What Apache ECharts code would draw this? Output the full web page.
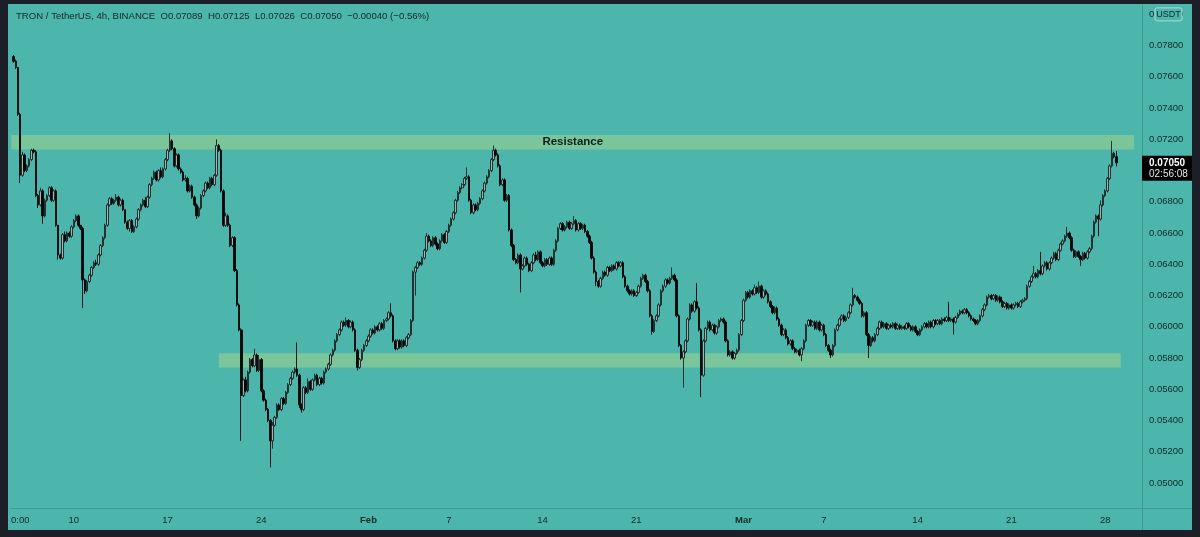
<!DOCTYPE html>
<html><head><meta charset="utf-8">
<script src="https://cdn.jsdelivr.net/npm/echarts@6/dist/echarts.min.js"></script>
<style>
html,body{margin:0;padding:0;background:#1c1f27;width:1200px;height:537px;overflow:hidden}
#chart{position:absolute;left:8px;top:4px;width:1184px;height:526px;background:#4db6ac}
</style></head><body><div id="chart"></div>
<script>
// ---------- data ----------
const headerTitle = 'TRON / TetherUS, 4h, BINANCE';
const headerOHLC = 'O0.07089  H0.07125  L0.07026  C0.07050  \u22120.00040 (\u22120.56%)';
const firstSlotTime = '2022-01-05T08:00:00Z';   // one empty slot before the first candle
const firstOpen = 0.0773;
const closes = [
/*Jan05*/0.0770,0.0766,0.0736,
/*Jan06*/0.0697,0.0710,0.0700,0.0703,0.0707,0.0713,
/*Jan07*/0.0712,0.0684,0.0678,0.0687,0.0671,0.0681,
/*Jan08*/0.0684,0.0689,0.0681,0.0687,0.0665,0.0646,
/*Jan09*/0.0644,0.0659,0.0655,0.0660,0.0658,0.0664,
/*Jan10*/0.0668,0.0671,0.0665,0.0663,0.0630,0.0623,
/*Jan11*/0.0629,0.0633,0.0638,0.0641,0.0640,0.0646,
/*Jan12*/0.0652,0.0657,0.0665,0.0678,0.0682,0.0679,
/*Jan13*/0.0681,0.0683,0.0678,0.0681,0.0675,0.0667,
/*Jan14*/0.0663,0.0668,0.0661,0.0664,0.0669,0.0675,
/*Jan15*/0.0678,0.0681,0.0677,0.0683,0.0691,0.0695,
/*Jan16*/0.0699,0.0694,0.0700,0.0696,0.0701,0.0707,
/*Jan17*/0.0713,0.0719,0.0714,0.0703,0.0710,0.0701,
/*Jan18*/0.0699,0.0694,0.0695,0.0687,0.0690,0.0683,
/*Jan19*/0.0678,0.0671,0.0676,0.0684,0.0687,0.0692,
/*Jan20*/0.0689,0.0695,0.0691,0.0697,0.0716,0.0713,
/*Jan21*/0.0687,0.0665,0.0671,0.0665,0.0652,0.0657,
/*Jan22*/0.0636,0.0614,0.0598,0.0556,0.0566,0.0559,
/*Jan23*/0.0571,0.0579,0.0575,0.0582,0.0572,0.0579,
/*Jan24*/0.0559,0.0553,0.0547,0.0540,0.0527,0.0537,
/*Jan25*/0.0542,0.0550,0.0547,0.0554,0.0551,0.0558,
/*Jan26*/0.0563,0.0567,0.0571,0.0573,0.0569,0.0550,
/*Jan27*/0.0547,0.0561,0.0558,0.0565,0.0560,0.0566,
/*Jan28*/0.0569,0.0563,0.0567,0.0564,0.0571,0.0573,
/*Jan29*/0.0576,0.0582,0.0585,0.0591,0.0595,0.0598,
/*Jan30*/0.0603,0.0601,0.0604,0.0600,0.0603,0.0598,
/*Jan31*/0.0585,0.0574,0.0579,0.0585,0.0588,0.0591,
/*Feb01*/0.0594,0.0598,0.0596,0.0600,0.0598,0.0602,
/*Feb02*/0.0599,0.0604,0.0605,0.0609,0.0607,0.0591,
/*Feb03*/0.0586,0.0591,0.0587,0.0591,0.0588,0.0593,
/*Feb04*/0.0595,0.0604,0.0635,0.0638,0.0641,0.0640,
/*Feb05*/0.0644,0.0649,0.0658,0.0655,0.0652,0.0657,
/*Feb06*/0.0653,0.0650,0.0655,0.0659,0.0654,0.0661,
/*Feb07*/0.0665,0.0669,0.0673,0.0681,0.0686,0.0689,
/*Feb08*/0.0691,0.0695,0.0696,0.0681,0.0673,0.0678,
/*Feb09*/0.0675,0.0679,0.0682,0.0687,0.0692,0.0696,
/*Feb10*/0.0700,0.0707,0.0713,0.0710,0.0703,0.0691,
/*Feb11*/0.0694,0.0681,0.0684,0.0662,0.0652,0.0643,
/*Feb12*/0.0641,0.0646,0.0637,0.0639,0.0644,0.0640,
/*Feb13*/0.0636,0.0641,0.0646,0.0643,0.0648,0.0641,
/*Feb14*/0.0639,0.0643,0.0640,0.0644,0.0640,0.0649,
/*Feb15*/0.0655,0.0663,0.0666,0.0662,0.0664,0.0667,
/*Feb16*/0.0663,0.0666,0.0668,0.0662,0.0666,0.0663,
/*Feb17*/0.0665,0.0661,0.0658,0.0654,0.0644,0.0635,
/*Feb18*/0.0629,0.0626,0.0631,0.0635,0.0633,0.0638,
/*Feb19*/0.0636,0.0639,0.0637,0.0641,0.0639,0.0641,
/*Feb20*/0.0632,0.0626,0.0623,0.0621,0.0623,0.0620,
/*Feb21*/0.0622,0.0626,0.0631,0.0633,0.0629,0.0623,
/*Feb22*/0.0607,0.0597,0.0604,0.0607,0.0614,0.0623,
/*Feb23*/0.0626,0.0630,0.0628,0.0631,0.0633,0.0630,
/*Feb24*/0.0607,0.0588,0.0580,0.0584,0.0591,0.0605,
/*Feb25*/0.0614,0.0610,0.0616,0.0612,0.0598,0.0569,
/*Feb26*/0.0591,0.0599,0.0603,0.0598,0.0601,0.0596,
/*Feb27*/0.0600,0.0604,0.0605,0.0603,0.0591,0.0582,
/*Feb28*/0.0584,0.0580,0.0583,0.0585,0.0595,0.0604,
/*Mar01*/0.0617,0.0622,0.0619,0.0623,0.0621,0.0625,
/*Mar02*/0.0622,0.0626,0.0619,0.0623,0.0621,0.0616,
/*Mar03*/0.0613,0.0609,0.0612,0.0605,0.0601,0.0595,
/*Mar04*/0.0598,0.0593,0.0589,0.0591,0.0586,0.0584,
/*Mar05*/0.0585,0.0582,0.0586,0.0591,0.0601,0.0604,
/*Mar06*/0.0601,0.0603,0.0599,0.0603,0.0598,0.0601,
/*Mar07*/0.0595,0.0588,0.0585,0.0582,0.0588,0.0598,
/*Mar08*/0.0601,0.0605,0.0607,0.0604,0.0606,0.0609,
/*Mar09*/0.0614,0.0620,0.0619,0.0617,0.0615,0.0607,
/*Mar10*/0.0609,0.0595,0.0588,0.0593,0.0591,0.0595,
/*Mar11*/0.0599,0.0603,0.0600,0.0602,0.0599,0.0601,
/*Mar12*/0.0600,0.0602,0.0599,0.0601,0.0599,0.0600,
/*Mar13*/0.0599,0.0602,0.0600,0.0598,0.0600,0.0597,
/*Mar14*/0.0595,0.0598,0.0600,0.0602,0.0600,0.0603,
/*Mar15*/0.0600,0.0604,0.0602,0.0604,0.0602,0.0605,
/*Mar16*/0.0604,0.0606,0.0604,0.0605,0.0603,0.0606,
/*Mar17*/0.0608,0.0610,0.0609,0.0611,0.0609,0.0607,
/*Mar18*/0.0605,0.0604,0.0602,0.0604,0.0607,0.0611,
/*Mar19*/0.0614,0.0619,0.0620,0.0618,0.0620,0.0617,
/*Mar20*/0.0619,0.0616,0.0613,0.0615,0.0612,0.0614,
/*Mar21*/0.0612,0.0614,0.0615,0.0613,0.0616,0.0617,
/*Mar22*/0.0618,0.0626,0.0629,0.0632,0.0634,0.0632,
/*Mar23*/0.0636,0.0634,0.0639,0.0641,0.0637,0.0641,
/*Mar24*/0.0644,0.0647,0.0643,0.0649,0.0653,0.0655,
/*Mar25*/0.0658,0.0660,0.0657,0.0649,0.0645,0.0648,
/*Mar26*/0.0645,0.0643,0.0647,0.0644,0.0648,0.0650,
/*Mar27*/0.0658,0.0667,0.0671,0.0669,0.0678,0.0684,
/*Mar28*/0.0687,0.0695,0.0703,0.0711,0.07089,0.07050
];
// upper / lower wick lengths, in units of 0.0001
const wickUp = [
1,1,0,
1,2,1,1,1,1, 1,1,1,2,1,1, 1,1,1,1,1,0, 1,1,2,1,1,1, 1,1,1,0,1,1,
1,1,1,1,2,1, 1,1,1,1,1,1, 1,2,1,1,1,0, 1,1,1,1,1,1, 1,1,2,1,1,1,
1,1,1,2,1,1, 1,5,1,1,1,1, 1,1,2,1,1,1, 1,1,1,1,1,1, 1,1,1,1,4,1,
1,1,2,1,1,1, 1,1,1,1,1,2, 1,1,1,4,1,3, 1,1,1,1,1,2, 1,1,1,1,1,1,
1,1,1,1,17,1, 1,1,1,2,1,1, 1,1,1,1,1,1, 1,1,1,1,1,1, 1,1,2,1,1,1,
1,1,1,1,1,1,
1,1,1,1,1,1, 1,1,1,1,6,1, 1,1,1,1,1,1, 1,1,1,1,1,1, 1,1,2,1,1,1,
1,1,1,1,1,1, 1,1,1,1,1,1, 1,1,6,1,1,1, 1,1,1,1,1,1, 1,1,3,1,1,1,
1,1,1,1,1,1, 1,1,1,1,1,1, 1,1,1,2,1,1, 1,1,1,1,1,1, 1,1,1,1,1,1,
1,1,3,1,1,1, 1,1,1,1,1,1, 1,1,1,1,1,1, 1,1,1,1,1,1, 1,1,1,1,1,1,
1,1,1,1,1,1, 1,1,1,1,1,1, 1,1,1,1,5,1, 1,1,1,1,1,1, 1,1,1,12,1,1,
1,1,1,1,1,1, 1,1,1,1,1,1, 1,1,1,1,1,1,
1,1,1,1,1,2, 1,3,1,1,1,1, 1,1,1,1,1,1, 1,1,1,1,1,1, 1,1,1,1,1,1,
1,1,1,1,1,1, 1,1,1,1,1,1, 1,1,1,1,1,1, 1,5,1,1,1,1, 1,1,1,1,1,1,
1,1,1,1,1,1, 1,1,1,1,1,1, 1,1,1,1,1,1, 1,1,1,1,1,1, 1,1,1,1,1,1,
1,1,10,1,1,1, 1,1,1,1,1,1, 1,1,1,1,1,1, 1,1,1,1,1,1, 1,1,1,1,1,1,
1,1,1,1,1,1, 1,1,1,1,5,1, 1,12,1,1,1,1, 1,1,1,1,1,1, 1,4,1,1,1,1,
1,1,1,1,1,1, 1,1,1,1,3,1, 1,1,1,8,1,3.6
];
const wickDn = [
1,1,1,
5,1,1,1,1,1, 1,1,2,1,5,1, 1,1,1,1,1,3, 1,1,1,1,1,1, 1,1,1,1,18,2,
1,1,1,1,1,1, 1,1,1,1,1,1, 1,1,1,1,1,1, 1,2,1,1,1,1, 1,1,1,1,1,1,
1,1,1,1,1,1, 1,1,1,1,1,1, 1,1,1,1,1,1, 1,2,1,1,1,1, 1,1,1,1,1,1,
1,1,1,1,1,1, 1,1,1,29,1,1, 1,1,1,1,1,1, 1,1,1,1,17,5, 1,1,1,1,1,1,
1,1,1,1,1,2, 2,1,1,1,1,1, 1,1,1,1,1,1, 1,1,1,1,1,1, 1,1,1,1,1,1,
1,2,1,1,1,1,
1,1,1,1,1,1, 1,1,1,1,1,1, 1,1,1,1,1,1, 1,1,1,15,1,1, 1,1,1,1,1,1,
1,1,1,1,1,1, 1,1,1,1,1,1, 1,1,1,1,1,1, 1,1,1,1,1,1, 1,1,1,1,1,1,
1,1,1,1,1,1, 1,1,15,1,1,1, 1,1,1,1,1,1, 1,1,1,1,1,1, 1,1,1,1,1,1,
1,1,1,1,1,1, 1,1,1,1,1,1, 3,1,1,1,1,1, 1,1,1,1,1,1, 1,1,1,1,1,1,
1,1,1,1,1,1, 1,2,1,1,1,1, 1,1,1,1,1,1, 1,1,1,19,1,1, 1,1,1,1,1,14,
1,1,1,1,1,1, 1,1,1,1,1,1, 1,1,1,1,1,1,
1,1,1,1,1,1, 1,1,1,1,1,1, 1,1,1,1,1,1, 1,1,1,1,1,1, 1,1,4,1,1,1,
1,1,1,1,1,1, 1,1,1,2,1,1, 1,1,1,1,1,1, 1,1,1,1,1,1, 1,1,8,1,1,1,
1,1,1,1,1,1, 1,1,1,1,1,1, 1,1,1,1,1,1, 1,1,1,1,1,1, 1,1,1,1,1,1,
1,1,1,1,8,1, 1,1,1,1,1,1, 1,1,1,1,1,1, 1,1,1,1,1,1, 1,1,1,1,1,1,
1,1,1,1,1,1, 1,1,1,1,1,1, 1,1,1,1,1,1, 1,1,1,1,1,1, 1,1,1,1,1,1,
1,4,1,1,1,1, 1,1,1,11,1,1, 1,1,1,1,1,2.4
];
const emptySlotsAfter = 11;
const tickTimes = ['2022-01-06 00:00','2022-01-10 00:00','2022-01-17 00:00','2022-01-24 00:00','2022-02-01 00:00','2022-02-07 00:00','2022-02-14 00:00','2022-02-21 00:00','2022-03-01 00:00','2022-03-07 00:00','2022-03-14 00:00','2022-03-21 00:00','2022-03-28 00:00'];
const tickTexts = ['0:00','10','17','24','Feb','7','14','21','Mar','7','14','21','28'];
const tickBold  = [false,false,false,false,true,false,false,false,true,false,false,false,false];
const resistance = {label:'Resistance', from:'2022-01-05 08:00', to:'2022-03-30 04:00', low:0.07135, high:0.07228};
const support    = {label:'', from:'2022-01-20 20:00', to:'2022-03-29 04:00', low:0.0574, high:0.0583};
const yMin = 0.0484, yMax = 0.0806, yStep = 0.002;
const priceUnit = 'USDT';
const lastPriceLabel = '0.07050';
const countdown = '02:56:08';

// ---------- build ----------
const H4 = 4 * 3600 * 1000;
const t0 = Date.parse(firstSlotTime);
const nSlots = 1 + closes.length + emptySlotsAfter;
const fmt = t => new Date(t).toISOString().slice(0, 16).replace('T', ' ');
const categories = [];
for (let k = 0; k < nSlots; k++) categories.push(fmt(t0 + k * H4));
const candles = ['-'];
let prev = firstOpen;
for (let i = 0; i < closes.length; i++) {
  const o = prev, c = closes[i];
  const hi = Math.max(o, c) + wickUp[i] * 0.0001;
  const lo = Math.min(o, c) - wickDn[i] * 0.0001;
  candles.push([o, c, +lo.toFixed(6), +hi.toFixed(6)]);
  prev = c;
}
for (let k = 0; k < emptySlotsAfter; k++) candles.push('-');

const TXT = '#102826';
const FONT = "'Liberation Sans', Arial, sans-serif";
const LINE = '#3f9a92';
const ZONE = '#7ac59a';

const chart = echarts.init(document.getElementById('chart'), null, {renderer: 'canvas'});
chart.setOption({
  animation: false,
  backgroundColor: 'transparent',
  grid: {left: 0, right: 50, top: 1, bottom: 22, containLabel: false},
  xAxis: {
    type: 'category', data: categories, boundaryGap: true,
    axisLine: {show: true, lineStyle: {color: LINE, width: 1}},
    axisTick: {show: false},
    splitLine: {show: false},
    axisLabel: {
      interval: (idx, val) => tickTimes.indexOf(val) >= 0,
      formatter: val => { const j = tickTimes.indexOf(val); return j < 0 ? '' : (tickBold[j] ? '{b|' + tickTexts[j] + '}' : tickTexts[j]); },
      color: TXT, fontFamily: FONT, fontSize: 9.5, margin: 7,
      rich: {b: {fontWeight: 'bold', color: TXT, fontFamily: FONT, fontSize: 9.5}}
    }
  },
  yAxis: {
    type: 'value', position: 'right', scale: true,
    min: yMin, max: yMax, splitNumber: 16, minInterval: yStep, maxInterval: yStep,
    axisLine: {show: true, lineStyle: {color: LINE, width: 1}},
    axisTick: {show: false},
    splitLine: {show: false},
    axisLabel: {
      showMinLabel: false, showMaxLabel: false, margin: 7,
      formatter: v => v.toFixed(5), color: TXT, fontFamily: FONT, fontSize: 9.5
    }
  },
  series: [
    {
      type: 'line', data: [], z: 1, silent: true,
      markArea: {
        silent: true,
        itemStyle: {color: ZONE, opacity: 1},
        label: {show: true, position: 'inside', color: '#0e1f1d', fontFamily: FONT, fontWeight: 'bold', fontSize: 11.5},
        data: [
          [{name: resistance.label, xAxis: resistance.from, yAxis: resistance.high}, {xAxis: resistance.to, yAxis: resistance.low}],
          [{name: support.label, xAxis: support.from, yAxis: support.high}, {xAxis: support.to, yAxis: support.low}]
        ]
      }
    },
    {
      type: 'candlestick', data: candles, z: 3, barWidth: '90%',
      itemStyle: {color: '#a3b3b0', color0: '#050707', borderColor: '#1b2322', borderColor0: '#050707', borderWidth: 0.9}
    }
  ]
});

const py = chart.convertToPixel({yAxisIndex: 0}, closes[closes.length - 1]);
const py80 = chart.convertToPixel({yAxisIndex: 0}, 0.08);
chart.setOption({
  graphic: [
    {type: 'text', left: 8, top: 7, z: 10, style: {text: headerTitle + '  ' + headerOHLC, fill: TXT, font: '9.6px ' + FONT}},
    {type: 'line', z: 10, shape: {x1: 1134.5, y1: 504, x2: 1134.5, y2: 526}, style: {stroke: LINE, lineWidth: 1}},
    {type: 'line', z: 10, shape: {x1: 1134, y1: 504.5, x2: 1184, y2: 504.5}, style: {stroke: LINE, lineWidth: 1}},
    {type: 'rect', z: 10, shape: {x: 1147, y: py80 - 6.5, width: 27, height: 13, r: 2}, style: {fill: '#4db6ac', stroke: '#a9ddd6', lineWidth: 1}},
    {type: 'text', z: 11, x: 1160.5, y: py80, style: {text: priceUnit, fill: TXT, font: '9px ' + FONT, align: 'center', verticalAlign: 'middle'}},
    {type: 'rect', z: 10, shape: {x: 1134, y: py - 7, width: 50, height: 25}, style: {fill: '#000000'}},
    {type: 'text', z: 11, x: 1141, y: py, style: {text: lastPriceLabel, fill: '#ffffff', font: 'bold 10px ' + FONT, verticalAlign: 'middle'}},
    {type: 'text', z: 11, x: 1141, y: py + 11, style: {text: countdown, fill: '#e6e6e6', font: '10px ' + FONT, verticalAlign: 'middle'}}
  ]
});
</script></body></html>
